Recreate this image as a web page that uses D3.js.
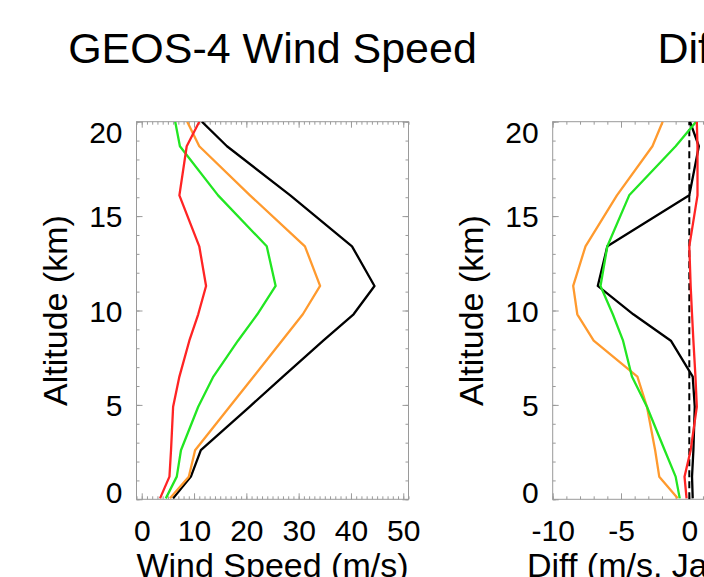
<!DOCTYPE html>
<html><head><meta charset="utf-8">
<script src="https://cdn.jsdelivr.net/npm/d3@7"></script>
<style>html,body{margin:0;padding:0;background:#fff;overflow:hidden}</style>
</head><body><svg id="c" width="704" height="577"></svg>
<script>
// ---- data ----
const altitude   = [0.05, 1.2, 2.6, 4.9, 6.5, 8.4, 9.8, 11.3, 13.4, 16.1, 18.7, 20.0];
const windBlack  = [6.0, 9.4, 11.3, 20.6, 27.0, 34.7, 40.5, 44.5, 40.2, 28.4, 16.3, 11.5];
const windOrange = [5.4, 9.0, 10.2, 16.8, 21.4, 26.8, 30.8, 34.1, 31.2, 20.7, 11.0, 8.7];
const windGreen  = [4.6, 6.7, 7.5, 10.8, 13.7, 18.4, 22.1, 25.6, 23.9, 14.6, 7.3, 6.4];
const windRed    = [3.5, 5.3, 5.6, 6.0, 7.2, 9.1, 10.8, 12.3, 11.0, 7.2, 8.6, 11.0];
const diffBlack  = [0.25, 0.2, 0.3, 0.4, 0.25, -1.35, -4.1, -6.7, -6.0, 0.0, 0.7, 0.05];
const diffOrange = [-0.85, -2.2, -2.5, -3.1, -3.8, -7.0, -8.2, -8.5, -7.6, -5.3, -2.7, -1.95];
const diffGreen  = [-0.7, -1.0, -1.8, -3.1, -4.2, -4.85, -5.6, -6.5, -6.0, -4.4, -1.0, 0.5];
const diffRed    = [-0.2, -0.35, 0.1, 0.55, 0.45, 0.3, 0.2, 0.1, 0.0, 0.6, 0.6, 0.55];
const windTicks = [0, 10, 20, 30, 40, 50];
const diffTicks = [-10, -5, 0, 5, 10];
const altTicks  = [0, 5, 10, 15, 20];
const zeroLine  = [0, 0];
const zeroAlt   = [0, 20];
const lineColors = ["#000000", "#ff9a2e", "#22e622", "#ff2424"];

const svg = d3.select("#c");
svg.append("rect").attr("width", 704).attr("height", 577).attr("fill", "#fff");
const FONT = "Liberation Sans, Arial, Helvetica, sans-serif";
const TOP = 121.7, BOTTOM = 499.3;
const fmt = d => String(d);

function panel(cfg) {
  const x = d3.scaleLinear().domain(cfg.xDomain).range([cfg.left, cfg.right]);
  const y = d3.scaleLinear().domain([0, 20]).range([BOTTOM, TOP]);
  const g = svg.append("g");
  const minorX = d3.range(Math.ceil(cfg.xDomain[0]), Math.floor(cfg.xDomain[1]) + 1);
  const minorY = d3.range(0, 21);

  function axisSet(axisFn, scale, ticks, minor, transform, labels) {
    const gm = g.append("g").attr("transform", transform)
      .call(axisFn(scale).tickValues(minor).tickSize(-3).tickFormat(""));
    gm.select(".domain").remove();
    gm.selectAll("line").attr("stroke", "#9a9a9a");
    const ga = g.append("g").attr("transform", transform)
      .call(axisFn(scale).tickValues(ticks).tickSize(-6).tickPadding(labels ? labels : 0)
        .tickFormat(labels ? fmt : ""));
    ga.select(".domain").remove();
    ga.selectAll("line").attr("stroke", "#9a9a9a");
    return ga;
  }
  const bx = axisSet(d3.axisBottom, x, cfg.xTicks, minorX, `translate(0,${BOTTOM})`, 20);
  bx.selectAll("text").attr("font-size", 30).attr("font-family", FONT).attr("fill", "#000");
  axisSet(d3.axisTop, x, cfg.xTicks, minorX, `translate(0,${TOP})`, 0);
  const ly = axisSet(d3.axisLeft, y, altTicks, minorY, `translate(${cfg.left},0)`, 14);
  ly.selectAll("text").attr("font-size", 30).attr("font-family", FONT).attr("fill", "#000")
    .attr("dy", d => d === 20 ? "0.70em" : d === 0 ? "0.1em" : "0.35em");
  axisSet(d3.axisRight, y, altTicks, minorY, `translate(${cfg.right},0)`, 0);

  g.append("rect").attr("x", cfg.left).attr("y", TOP)
    .attr("width", cfg.right - cfg.left).attr("height", BOTTOM - TOP)
    .attr("fill", "none").attr("stroke", "#9a9a9a").attr("stroke-width", 1);

  const clipId = "clip" + Math.round(cfg.left);
  svg.append("clipPath").attr("id", clipId).append("rect")
    .attr("x", cfg.left).attr("y", TOP).attr("width", cfg.right - cfg.left).attr("height", BOTTOM - TOP);
  const lg = g.append("g").attr("clip-path", `url(#${clipId})`);
  const line = d3.line().x(d => x(d[0])).y(d => y(d[1]));
  if (cfg.zero) {
    lg.append("path").datum(d3.zip(zeroLine, zeroAlt)).attr("d", line)
      .attr("fill", "none").attr("stroke", "#000").attr("stroke-width", 2)
      .attr("stroke-dasharray", "7,4");
  }
  cfg.series.forEach((s, i) => {
    lg.append("path").datum(d3.zip(s, altitude)).attr("d", line)
      .attr("fill", "none").attr("stroke", lineColors[i]).attr("stroke-width", 2.3)
      .attr("stroke-linejoin", "round");
  });

  const cx = (cfg.left + cfg.right) / 2;
  svg.append("text").attr("x", cx).attr("y", 63).attr("text-anchor", "middle")
    .attr("font-family", FONT).attr("font-size", 43).text(cfg.title);
  svg.append("text").attr("transform", `translate(${cfg.left - 70},${(TOP + BOTTOM) / 2}) rotate(-90)`)
    .attr("text-anchor", "middle").attr("font-family", FONT).attr("font-size", 34)
    .text("Altitude (km)");
  const xl = svg.append("text").attr("y", 577).attr("font-family", FONT).attr("font-size", 34)
    .text(cfg.xLabel);
  if (cfg.xLabelStart != null) xl.attr("x", cfg.xLabelStart).attr("text-anchor", "start");
  else xl.attr("x", cx).attr("text-anchor", "middle");
}

panel({
  left: 136.5, right: 408.5, xDomain: [-1, 51], xTicks: windTicks,
  series: [windBlack, windOrange, windGreen, windRed],
  title: "GEOS-4 Wind Speed", xLabel: "Wind Speed (m/s)", zero: false
});
panel({
  left: 552.7, right: 825.9, xDomain: [-10, 10], xTicks: diffTicks,
  series: [diffBlack, diffOrange, diffGreen, diffRed],
  title: "Diff", xLabel: "Diff (m/s, Jan - Jul)", xLabelStart: 527, zero: true
});
</script></body></html>
